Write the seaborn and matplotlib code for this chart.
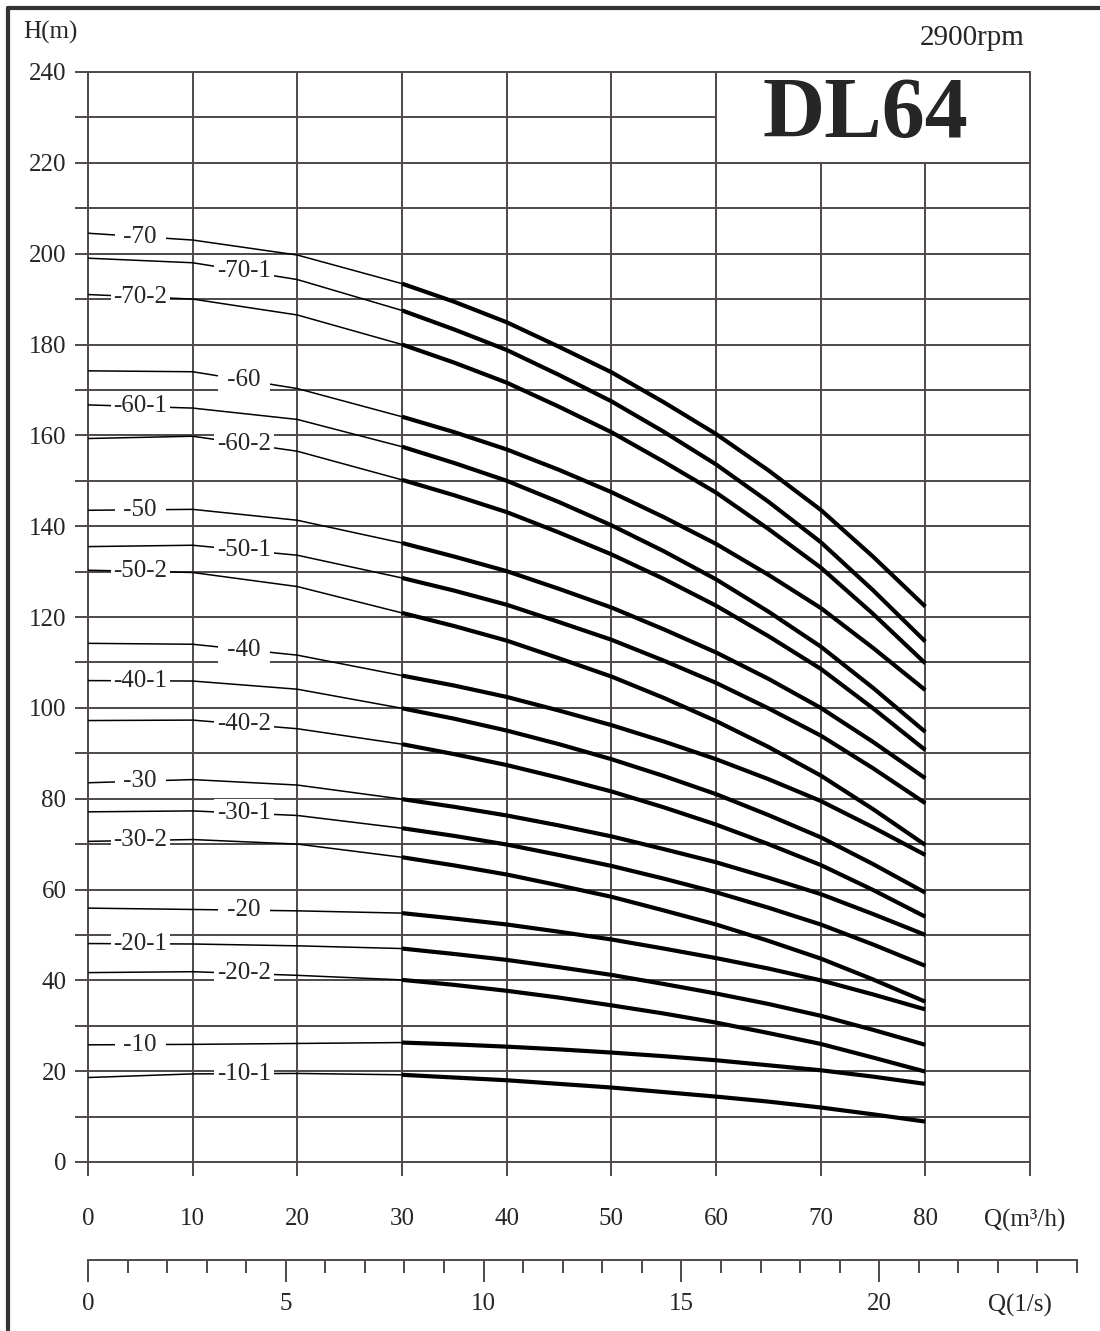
import numpy as np
import pandas as pd
import matplotlib
matplotlib.use("Agg")
import matplotlib.pyplot as plt
import seaborn as sns
from matplotlib.patches import Rectangle
from matplotlib.lines import Line2D

q_mh = [0, 10, 20, 30, 35, 40, 45, 50, 55, 60, 65, 70, 75, 80]

models = ["-70", "-70-1", "-70-2", "-60", "-60-1", "-60-2", "-50", "-50-1", "-50-2",
          "-40", "-40-1", "-40-2", "-30", "-30-1", "-30-2", "-20", "-20-1", "-20-2",
          "-10", "-10-1"]

h_70 = [204.5, 203.0, 199.7, 193.4, 189.4, 184.9, 179.5, 173.9, 167.3, 160.3, 152.3, 143.6, 133.3, 122.3]
h_70_1 = [199.0, 198.0, 194.3, 187.5, 183.3, 178.8, 173.3, 167.5, 160.8, 153.6, 145.4, 136.5, 125.9, 114.6]
h_70_2 = [191.0, 190.0, 186.5, 180.0, 176.0, 171.6, 166.3, 160.7, 154.2, 147.4, 139.4, 130.9, 120.7, 109.8]
h_60 = [174.2, 174.0, 170.3, 164.1, 160.7, 156.9, 152.4, 147.5, 142.0, 136.1, 129.3, 122.0, 113.2, 103.9]
h_60_1 = [166.7, 166.0, 163.5, 157.5, 153.9, 150.0, 145.3, 140.2, 134.5, 128.3, 121.2, 113.5, 104.4, 94.7]
h_60_2 = [159.3, 159.8, 156.5, 150.2, 146.8, 143.1, 138.6, 133.8, 128.4, 122.5, 115.8, 108.6, 99.9, 90.7]
h_50 = [143.5, 143.7, 141.3, 136.3, 133.3, 130.1, 126.2, 122.1, 117.3, 112.2, 106.4, 100.0, 92.5, 84.5]
h_50_1 = [135.5, 135.8, 133.6, 128.6, 125.8, 122.7, 118.9, 115.0, 110.4, 105.5, 99.9, 93.9, 86.7, 79.0]
h_50_2 = [130.3, 129.8, 126.7, 120.9, 118.0, 114.8, 110.9, 106.9, 102.2, 97.1, 91.4, 85.1, 77.7, 69.8]
h_40 = [114.2, 114.0, 111.6, 107.1, 104.9, 102.4, 99.4, 96.2, 92.6, 88.7, 84.3, 79.5, 73.7, 67.6]
h_40_1 = [106.0, 105.9, 104.1, 99.9, 97.6, 95.0, 92.0, 88.7, 85.0, 81.0, 76.4, 71.5, 65.6, 59.3]
h_40_2 = [97.2, 97.3, 95.4, 92.0, 89.8, 87.4, 84.6, 81.6, 78.1, 74.3, 70.0, 65.4, 59.9, 54.0]
h_30 = [83.5, 84.2, 83.0, 79.9, 78.2, 76.3, 74.1, 71.7, 68.9, 66.0, 62.6, 59.0, 54.6, 50.0]
h_30_1 = [77.1, 77.3, 76.3, 73.5, 71.8, 69.9, 67.6, 65.2, 62.4, 59.4, 56.0, 52.3, 47.9, 43.2]
h_30_2 = [70.6, 71.0, 70.0, 67.1, 65.3, 63.3, 60.9, 58.4, 55.4, 52.3, 48.7, 44.8, 40.2, 35.3]
h_20 = [55.9, 55.6, 55.3, 54.8, 53.6, 52.3, 50.7, 49.0, 47.0, 44.9, 42.6, 40.0, 36.9, 33.6]
h_20_1 = [48.1, 48.0, 47.6, 47.0, 45.8, 44.5, 42.9, 41.2, 39.2, 37.1, 34.8, 32.2, 29.1, 25.8]
h_20_2 = [41.7, 41.9, 41.1, 40.1, 39.0, 37.7, 36.2, 34.5, 32.7, 30.7, 28.4, 26.0, 23.0, 19.9]
h_10 = [25.8, 25.9, 26.1, 26.3, 25.9, 25.4, 24.8, 24.1, 23.3, 22.4, 21.3, 20.2, 18.8, 17.2]
h_10_1 = [18.6, 19.4, 19.5, 19.2, 18.6, 18.0, 17.2, 16.4, 15.4, 14.4, 13.3, 12.0, 10.5, 8.9]

heads = [h_70, h_70_1, h_70_2, h_60, h_60_1, h_60_2, h_50, h_50_1, h_50_2,
         h_40, h_40_1, h_40_2, h_30, h_30_1, h_30_2, h_20, h_20_1, h_20_2,
         h_10, h_10_1]

ls_ticks = [0, 5, 10, 15, 20]

rows = []
for m, h in zip(models, heads):
    for q, v in zip(q_mh, h):
        rows.append({"model": m, "q": q, "h": v})
df = pd.DataFrame(rows)

sns.set_style("white")
plt.rcParams["font.family"] = ["Liberation Serif", "DejaVu Serif"]

W, H = 1100, 1331
fig = plt.figure(figsize=(W / 100, H / 100), dpi=100)
ax = fig.add_axes([88 / W, 1 - 1162 / H, 942 / W, 1090 / H])

gc = "#4f4848"
pal = {m: "black" for m in models}

# thin part of every curve below 30 m3/h, heavy part for the working range
sns.lineplot(data=df[df.q <= 30], x="q", y="h", hue="model", palette=pal,
             legend=False, lw=1.1, estimator=None, sort=False, ax=ax)
sns.lineplot(data=df[df.q >= 30], x="q", y="h", hue="model", palette=pal,
             legend=False, lw=3.0, estimator=None, sort=False, ax=ax,
             solid_capstyle="butt")

ax.set_xlim(0, 90)
ax.set_ylim(0, 240)
xt = list(range(0, 91, 10))
yt = list(range(0, 241, 10))
ax.set_xticks(xt)
ax.set_yticks(yt)
ax.set_xticklabels([str(v) if v <= 80 else "" for v in xt], fontsize=18)
ax.set_yticklabels([str(v) if v % 20 == 0 else "" for v in yt], fontsize=18)
ax.tick_params(axis="x", bottom=True, direction="out", length=10, width=1.4,
               color=gc, pad=23)
ax.tick_params(axis="y", left=True, direction="out", length=9.5, width=1.4,
               color=gc, pad=6)
ax.set_xlabel("")
ax.set_ylabel("")
for s in ax.spines.values():
    s.set_visible(False)
ax.grid(True, color=gc, lw=1.4)
ax.set_axisbelow(True)
for gl in ax.get_xgridlines() + ax.get_ygridlines():
    gl.set_clip_on(False)

# white title box in the upper right corner
ax.add_patch(Rectangle((60, 220), 30, 20, facecolor="white", edgecolor=gc,
                       lw=1.4, zorder=1, clip_on=False))
ax.text(74.3, 230.1, "DL64", fontsize=62, fontweight="bold", ha="center",
        va="center", zorder=5)

# curve labels, alternating two columns
for i, (m, h) in enumerate(zip(models, heads)):
    qx = 5.0 if i % 2 == 0 else 14.9
    y = np.interp(qx, q_mh, h)
    txt = m if m.count("-") == 2 else " " + m + " "
    ax.text(qx, y, txt, fontsize=18, ha="center", va="center", zorder=6,
            bbox=dict(facecolor="white", edgecolor="none", pad=2))

# second flow scale in l/s
ax2 = fig.add_axes([88 / W, 1 - 1260 / H, 989 / W, 0.0001])
ax2.set_xlim(0, 25)
ax2.set_yticks([])
for k in ["top", "left", "right"]:
    ax2.spines[k].set_visible(False)
ax2.spines["bottom"].set_color(gc)
ax2.spines["bottom"].set_linewidth(1.4)
ax2.set_xticks(ls_ticks)
ax2.set_xticklabels([str(v) for v in ls_ticks], fontsize=18)
ax2.set_xticks(range(0, 26), minor=True)
ax2.tick_params(axis="x", which="major", bottom=True, direction="out", length=16,
                width=1.4, color=gc, pad=8)
ax2.tick_params(axis="x", which="minor", bottom=True, direction="out", length=9,
                width=1.4, color=gc)

fig.text(50 / W, 1 - 32 / H, "H(m)", fontsize=18, ha="center", va="center")
fig.text(972 / W, 1 - 38 / H, "2900rpm", fontsize=21, ha="center", va="center")
fig.text(1025 / W, 1 - 1220 / H, "Q(m³/h)", fontsize=18, ha="center", va="center")
fig.text(1020 / W, 1 - 1305 / H, "Q(1/s)", fontsize=18, ha="center", va="center")

# outer frame (top and left edges)
fig.add_artist(Line2D([8 / W, 1], [1 - 8 / H, 1 - 8 / H], transform=fig.transFigure,
                      color="#333333", lw=3))
fig.add_artist(Line2D([8 / W, 8 / W], [0, 1 - 8 / H], transform=fig.transFigure,
                      color="#333333", lw=3))

fig.savefig("out.png", dpi=100)
